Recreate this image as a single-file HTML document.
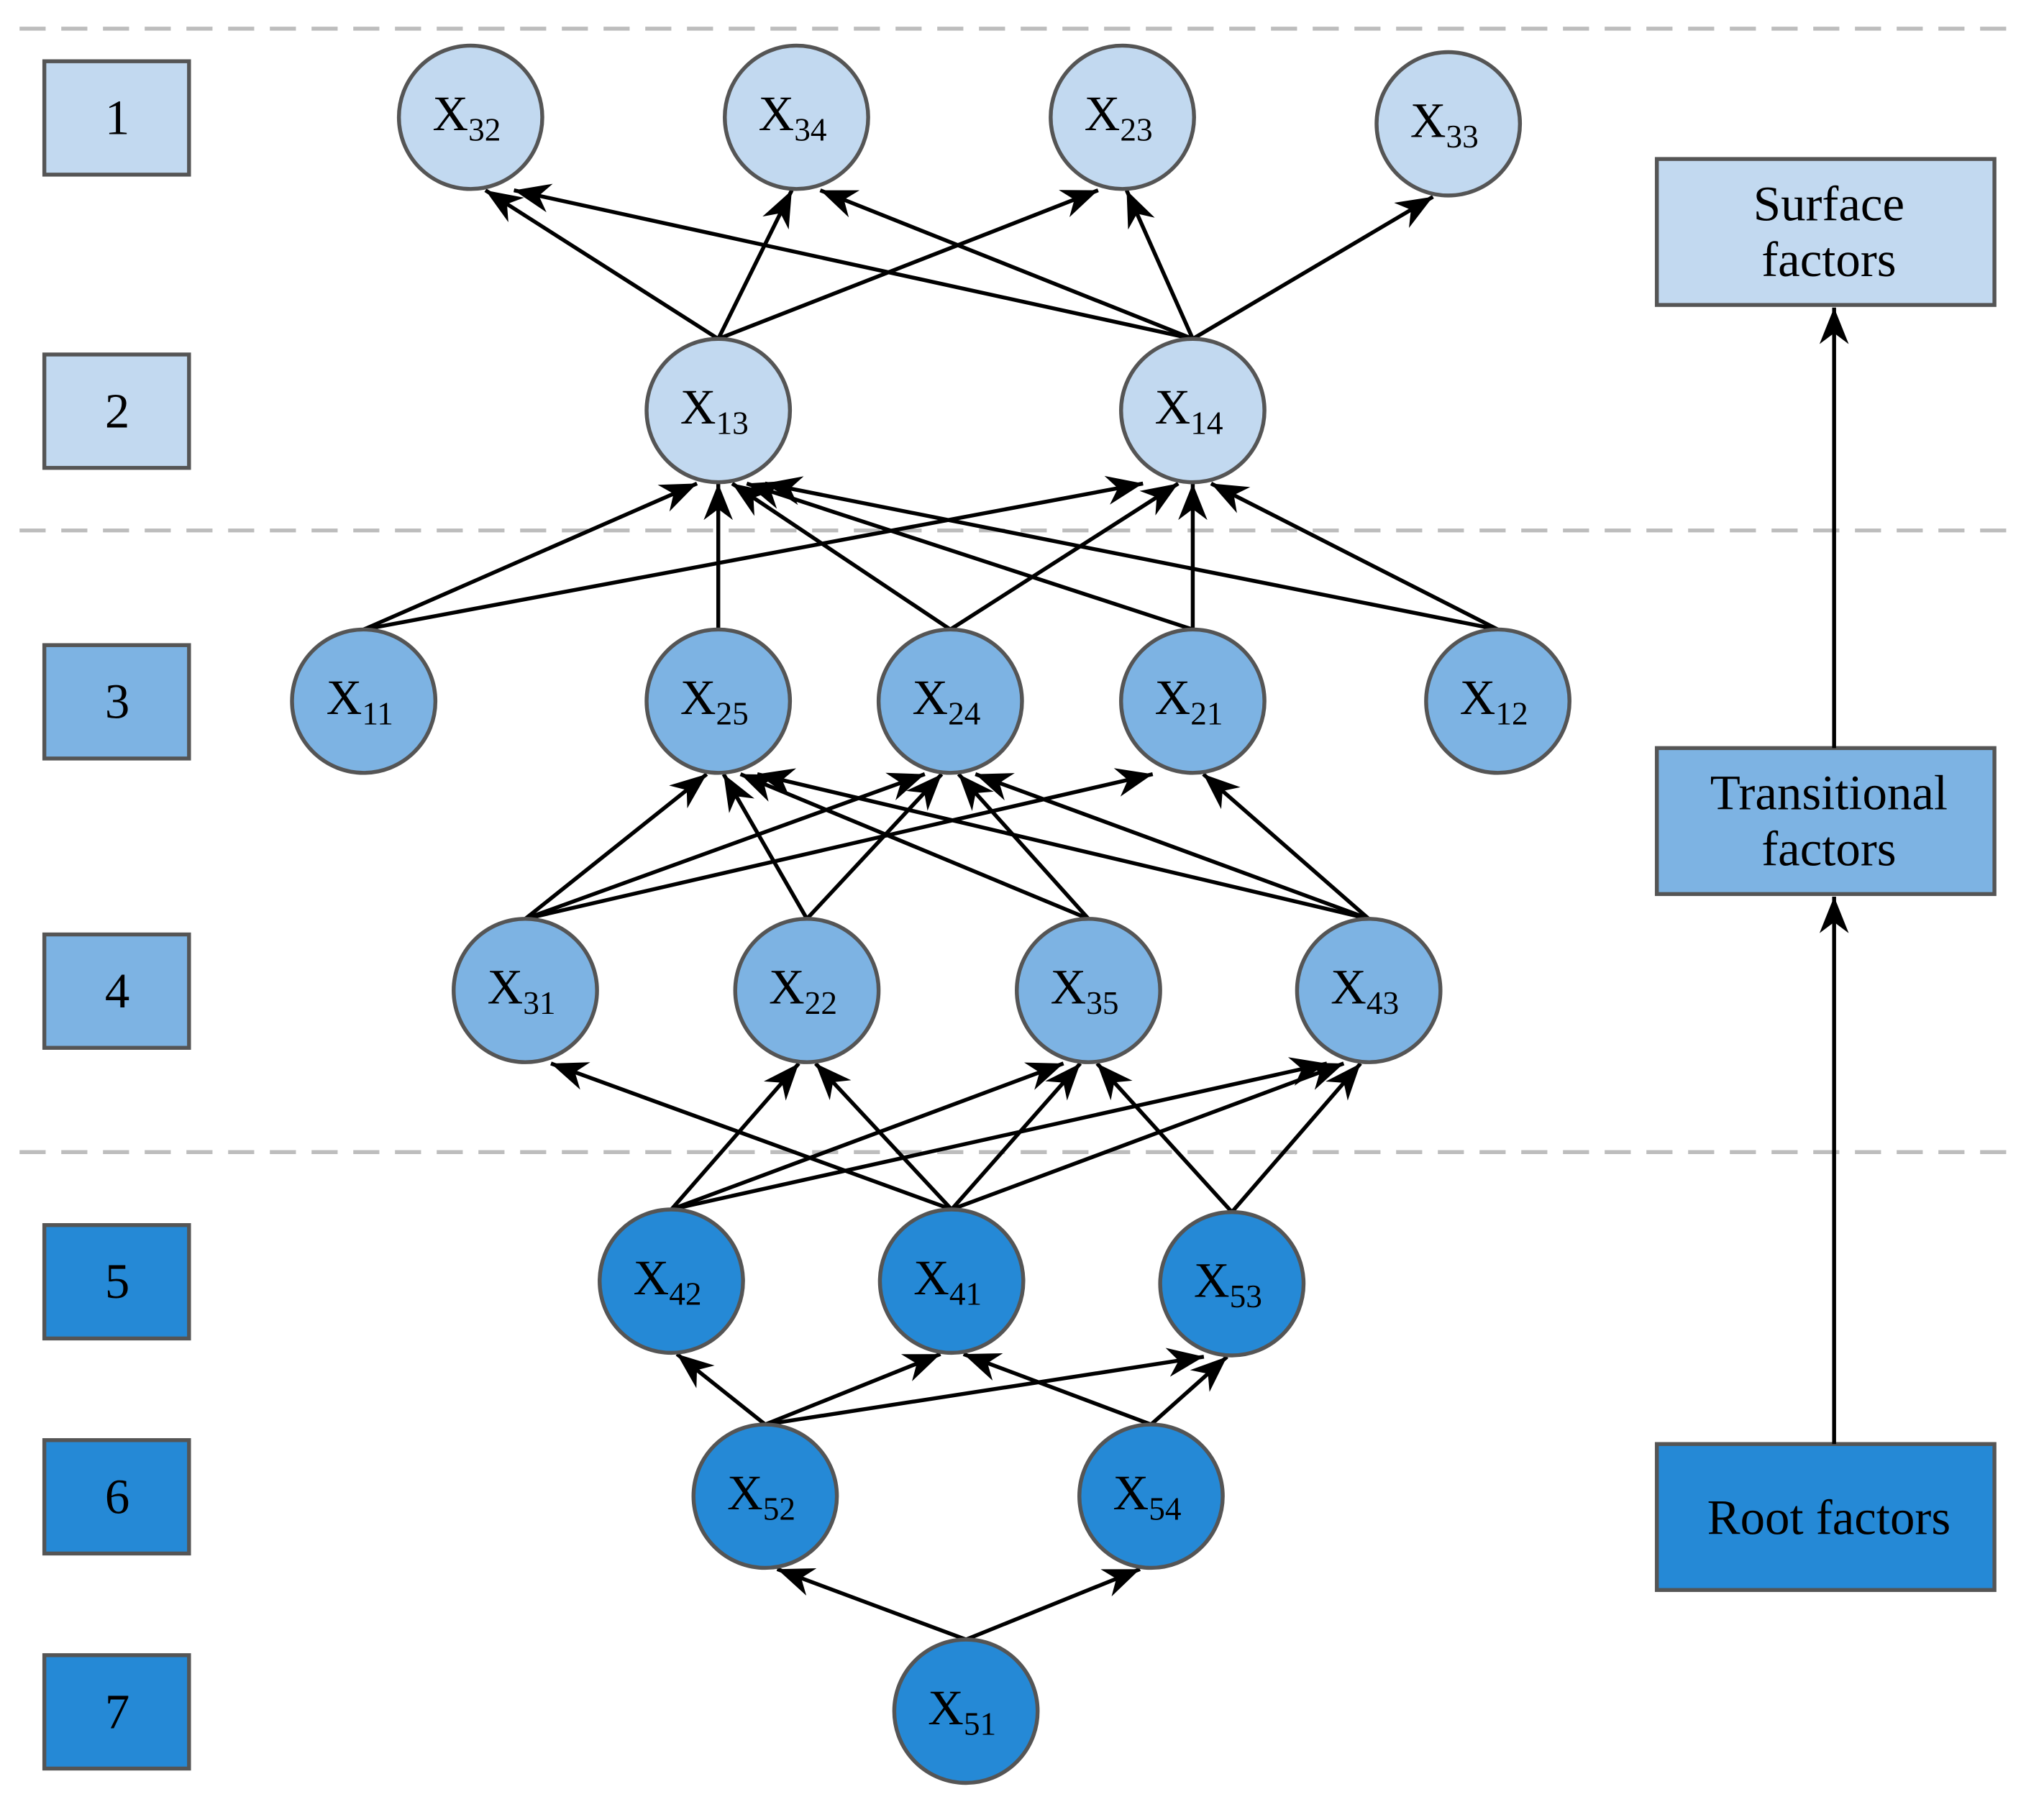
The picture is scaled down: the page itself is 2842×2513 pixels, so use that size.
<!DOCTYPE html>
<html><head><meta charset="utf-8"><style>
html,body{margin:0;padding:0;background:#fff;}
svg{display:block;font-family:"Liberation Serif",serif;}
</style></head><body>
<svg id="s" width="2842" height="2513" viewBox="0 0 1568 1386.5" xmlns="http://www.w3.org/2000/svg">
<defs>
<marker id="b" viewBox="0 0 10 10" refX="10" refY="5" markerWidth="28" markerHeight="28" markerUnits="userSpaceOnUse" orient="auto"><path d="M0,1 L10,5 L0,9 L3,5 z" fill="#000"/></marker></defs>
<g stroke="#bdbdbd" stroke-width="3" stroke-dasharray="20,12">
<line x1="15" y1="22" x2="1540" y2="22"/><line x1="15" y1="407" x2="1540" y2="407"/><line x1="15" y1="884" x2="1540" y2="884"/></g>
<g id="lv" stroke="#555" stroke-width="3" font-size="38" text-anchor="middle"></g>
<g id="ed" stroke="#000" stroke-width="3"></g>
<g id="nd"></g>
<g stroke="#555" stroke-width="3" font-size="38" text-anchor="middle">
<rect x="1271" y="122" width="259" height="112" fill="#c2d9f0"/>
<rect x="1271" y="574" width="259" height="112" fill="#7db3e3"/>
<rect x="1271" y="1108" width="259" height="112" fill="#2589d6"/>
<g stroke="none" fill="#000"><text x="1403" y="169">Surface</text><text x="1403" y="212">factors</text>
<text x="1403" y="621">Transitional</text><text x="1403" y="664">factors</text>
<text x="1403" y="1177">Root factors</text></g>
<line x1="1407" y1="1108" x2="1407" y2="688" stroke="#000" marker-end="url(#b)"/>
<line x1="1407" y1="574" x2="1407" y2="236" stroke="#000" marker-end="url(#b)"/>
</g>
</svg>
<script>
var L="#c2d9f0",M="#7db3e3",D="#2589d6",ns="http://www.w3.org/2000/svg";
var N={"32":[361,90,L],"34":[611,90,L],"23":[861,90,L],"33":[1111,95,L],
"13":[551,315,L],"14":[915,315,L],
"11":[279,538,M],"25":[551,538,M],"24":[729,538,M],"21":[915,538,M],"12":[1149,538,M],
"31":[403,760,M],"22":[619,760,M],"35":[835,760,M],"43":[1050,760,M],
"42":[515,983,D],"41":[730,983,D],"53":[945,985,D],
"52":[587,1148,D],"54":[883,1148,D],"51":[741,1313,D]};
var E={"13":["32","34","23"],"14":["32","34","23","33"],"11":["13","14"],"25":["13"],"24":["13","14"],"21":["13","14"],"12":["13","14"],
"31":["25","24","21"],"22":["25","24"],"35":["25","24"],"43":["25","24","21"],
"42":["22","35","43"],"41":["31","22","35","43"],"53":["35","43"],"52":["42","41","53"],"54":["41","53"],"51":["52","54"]};
var R=55,ed=document.getElementById("ed"),nd=document.getElementById("nd"),lv=document.getElementById("lv");
function el(t,a,p){var e=document.createElementNS(ns,t);for(var k in a)e.setAttribute(k,a[k]);p.appendChild(e);return e;}
for(var s in E){var S=N[s],sx=S[0],sy=S[1]-R;E[s].forEach(function(t){var T=N[t];
var tx=T[0]+(sx-T[0])*0.06,ty=T[1]+R+1;
el("line",{x1:sx,y1:sy,x2:tx,y2:ty,"marker-end":"url(#b)"},ed);});}
for(var k in N){var n=N[k];el("circle",{cx:n[0],cy:n[1],r:R,fill:n[2],stroke:"#555","stroke-width":3},nd);
var tx=el("text",{x:n[0]-3,y:n[1]+10,"font-size":38,"text-anchor":"middle"},nd);
tx.appendChild(document.createTextNode("X"));var sp=el("tspan",{"font-size":25,dy:8},tx);sp.textContent=k;}
var ly=[90,315,538,760,983,1148,1313],lc=[L,L,M,M,D,D,D];
for(var i=0;i<7;i++){el("rect",{x:34,y:ly[i]-43,width:111,height:87,fill:lc[i]},lv);
var t=el("text",{x:90,y:ly[i]+13,stroke:"none",fill:"#000"},lv);t.textContent=i+1;}
</script>
</body></html>
